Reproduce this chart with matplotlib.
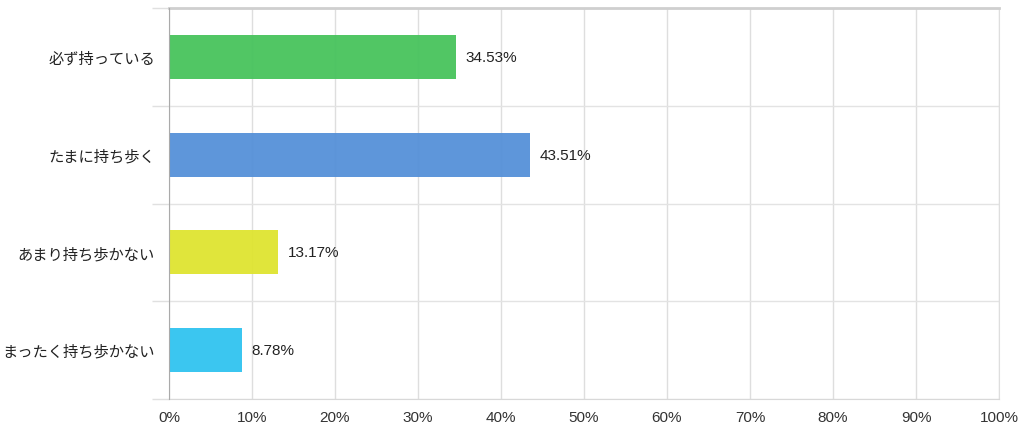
import matplotlib
matplotlib.use('Agg')
import matplotlib.pyplot as plt
import numpy as np
from matplotlib.ticker import FixedLocator, PercentFormatter

plt.rcParams['font.family'] = ['Liberation Sans', 'Noto Sans CJK JP', 'DejaVu Sans']

# Survey answers, top to bottom
categories = ['必ず持っている', 'たまに持ち歩く', 'あまり持ち歩かない', 'まったく持ち歩かない']
shares = [34.53, 43.51, 13.17, 8.78]
bar_colors = ['#47c35c', '#5590d8', '#dfe430', '#30c3f0']
x_ticks = list(range(0, 101, 10))

fig = plt.figure(figsize=(10.24, 4.35), dpi=100)
ax = fig.add_axes([169 / 1024, 1 - 400 / 435, 830 / 1024, 391 / 435])

y = np.arange(len(categories))
ax.barh(y, shares, height=0.45, color=bar_colors, alpha=0.95, zorder=2)

for yi, v in zip(y, shares):
    ax.text(v + 1.2, yi, f'{v:.2f}%', va='center', ha='left', fontsize=11, color='#222222')

ax.set_xlim(0, 100)
ax.set_ylim(len(categories) - 0.5, -0.5)

ax.set_xticks(x_ticks)
ax.xaxis.set_major_formatter(PercentFormatter(decimals=0))
ax.set_yticks(y)
ax.set_yticklabels(categories)
ax.yaxis.set_minor_locator(FixedLocator(np.arange(-0.5, len(categories), 1.0)))

ax.tick_params(axis='x', length=0, pad=8, labelsize=11, labelcolor='#333333')
ax.tick_params(axis='y', which='major', length=0, pad=10, labelsize=11, labelcolor='#222222')
ax.tick_params(axis='y', which='minor', length=12, width=1, color='#e0e0e0')

ax.grid(axis='x', color='#dedede', linewidth=1, zorder=0)
ax.grid(axis='y', which='minor', color='#e3e3e3', linewidth=1, zorder=0)
ax.set_axisbelow(True)

ax.spines['left'].set_color('#aaaaaa')
ax.spines['left'].set_zorder(3)
ax.spines['right'].set_color('#dedede')
ax.spines['bottom'].set_color('#d8d8d8')
ax.spines['top'].set_color('#cfcfcf')
ax.spines['top'].set_linewidth(2)

fig.savefig('out.png', dpi=100)
